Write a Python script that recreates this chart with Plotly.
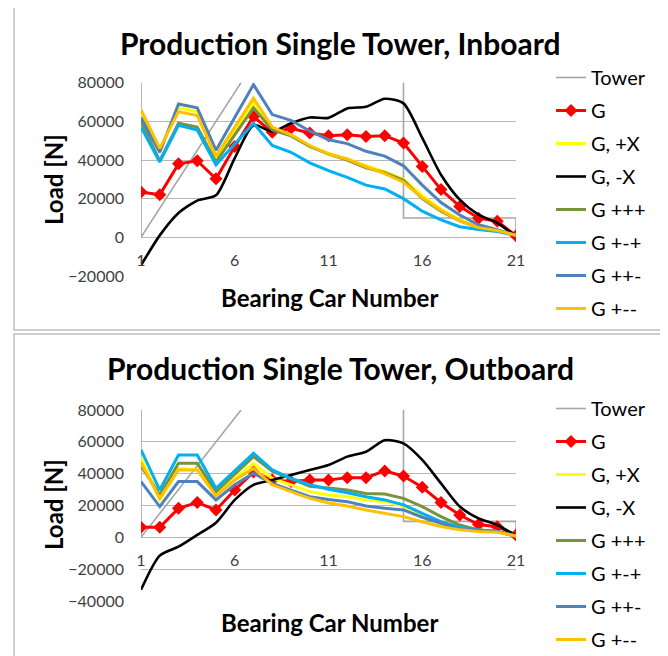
import plotly.graph_objects as go

# ---------------- data ----------------
bearing_car = list(range(1, 22))
tower_x = [1, 1, 7, 15, 15, 21, 21]
tower_y = [90000, 0, 90000, 90000, 10000, 10000, 0]

series_names = ["Tower", "G", "G, +X", "G, -X", "G +++", "G +-+", "G ++-", "G +--"]

# Inboard
in_G    = [23400, 22000, 38000, 39600, 30300, 47000, 62500, 54300, 56400, 54000, 52600, 53100, 52200, 52600, 48800, 36700, 24700, 16000, 9900, 8300, 800]
in_GpX  = [64000, 45000, 67000, 65000, 41000, 55500, 70000, 56000, 53000, 47000, 43500, 40500, 37000, 34000, 30000, 21500, 14500, 9000, 5000, 3500, 1000]
in_GmX  = [-14500, 1000, 12600, 19000, 21700, 41000, 58000, 54800, 59000, 62000, 61800, 66700, 67500, 71700, 69300, 51400, 32400, 19500, 11700, 7400, 500]
in_Gppp = [60000, 39500, 59000, 57000, 39000, 53000, 67000, 55500, 52500, 47000, 43000, 40000, 36000, 33500, 29500, 20000, 13500, 8500, 5000, 3500, 1000]
in_Gpmp = [57000, 39000, 58000, 55500, 37500, 48000, 59000, 47500, 44000, 38500, 34500, 31000, 27000, 25000, 20000, 13500, 9000, 5500, 4000, 3000, 1000]
in_Gppm = [62000, 44000, 69000, 67000, 45000, 62000, 79000, 63500, 60500, 55000, 50500, 48500, 44500, 42000, 37000, 27000, 18000, 11500, 6500, 4000, 1000]
in_Gpmm = [66000, 46000, 65000, 63000, 42000, 57000, 72000, 57000, 53000, 47500, 43000, 40500, 36500, 33000, 28500, 20500, 14000, 8500, 5000, 3500, 1000]

# Outboard
out_G    = [6300, 6300, 18200, 21800, 17200, 29700, 41000, 36000, 35000, 36000, 36000, 37500, 37500, 41700, 38500, 31400, 21800, 14000, 8000, 6700, 1500]
out_GpX  = [50000, 23500, 43300, 42300, 26600, 37000, 46500, 37000, 32900, 28700, 26600, 25500, 23500, 22400, 19700, 14000, 8400, 5000, 4600, 3600, 800]
out_GmX  = [-33000, -11500, -5900, 1500, 9200, 23500, 33000, 36000, 39200, 42300, 45400, 50700, 53800, 61000, 59000, 48600, 33900, 19300, 11900, 7700, 800]
out_Gppp = [45000, 26600, 46500, 46500, 28700, 39500, 50700, 41500, 36500, 32000, 31000, 29700, 27600, 27200, 24500, 19300, 13000, 7700, 4600, 3600, 800]
out_Gpmp = [55000, 29700, 51700, 51700, 30800, 42000, 52800, 42300, 37000, 33000, 30200, 28000, 25500, 23500, 20400, 15100, 9800, 6300, 4600, 3600, 800]
out_Gppm = [35000, 19300, 35000, 35000, 23500, 33000, 40200, 33900, 29700, 25500, 23700, 22400, 19700, 18200, 17200, 12600, 8800, 5000, 4600, 3600, 800]
out_Gpmm = [47000, 24500, 42300, 42300, 26000, 36000, 43300, 33000, 28700, 24500, 21600, 19700, 17200, 15100, 13000, 9800, 6700, 4800, 3600, 3200, 800]

titles = ["Production Single Tower, Inboard", "Production Single Tower, Outboard"]
x_title = "Bearing Car Number"
y_title = "Load [N]"

# ---------------- styling ----------------
OFF = 8                      # default page margin of the html body
W, H = 668 - OFF, 656 - OFF  # figure size that fits the window exactly
FONT = "Lato"
colors = ["#A6A6A6", "#FF0000", "#FFFF00", "#000000", "#77933C", "#00B0F0", "#4F81BD", "#FFC000"]
widths = [1.6, 3, 3, 2.6, 3, 3, 3, 3]

def px_x(p):
    """screen pixel -> paper x"""
    return (p - OFF) / W

def px_y(p):
    """screen pixel -> paper y"""
    return 1 - (p - OFF) / H

fig = go.Figure()

panels = [
    dict(data=[in_G, in_GpX, in_GmX, in_Gppp, in_Gpmp, in_Gppm, in_Gpmm],
         xa="x", ya="y", legend="legend", yrange=[-20000, 80000],
         ytop=82.7, ybot=275.95),
    dict(data=[out_G, out_GpX, out_GmX, out_Gppp, out_Gpmp, out_Gppm, out_Gpmm],
         xa="x2", ya="y2", legend="legend2", yrange=[-40000, 80000],
         ytop=410.0, ybot=600.95),
]

for p in panels:
    fig.add_trace(go.Scatter(x=tower_x, y=tower_y, name=series_names[0], mode="lines",
                             line=dict(color=colors[0], width=widths[0]),
                             xaxis=p["xa"], yaxis=p["ya"], legend=p["legend"],
                             legendgroup=p["legend"] + "0"))
    for i, vals in enumerate(p["data"], start=1):
        kw = dict(mode="lines")
        line = dict(color=colors[i], width=widths[i])
        if i == 1:
            kw = dict(mode="lines+markers",
                      marker=dict(symbol="diamond", size=10, color=colors[1]))
        if i == 3:
            line.update(shape="spline", smoothing=0.7)
        fig.add_trace(go.Scatter(x=bearing_car, y=vals, name=series_names[i], line=line,
                                 xaxis=p["xa"], yaxis=p["ya"], legend=p["legend"],
                                 legendgroup=p["legend"] + str(i), **kw))

x_dom = [px_x(141), px_x(516)]
layout = dict(width=W, height=H, margin=dict(l=0, r=0, t=0, b=0, autoexpand=False),
              paper_bgcolor="white", plot_bgcolor="white", showlegend=True,
              font=dict(family=FONT, color="#000000"))

shapes = []
annotations = []
for k, p in enumerate(panels):
    sfx = "" if k == 0 else "2"
    d0, d1 = px_y(p["ybot"]), px_y(p["ytop"])
    y0, y1 = p["yrange"]
    zero_pos = d0 + (0 - y0) / (y1 - y0) * (d1 - d0)
    layout["xaxis" + sfx] = dict(domain=x_dom, range=[1, 21], tick0=1, dtick=5,
                                 anchor="free", position=zero_pos,
                                 showgrid=False, zeroline=False, showline=False,
                                 ticks="", ticklabelstandoff=12,
                                 tickfont=dict(family=FONT, size=16, color="#404040"))
    layout["yaxis" + sfx] = dict(domain=[d0, d1], range=p["yrange"], dtick=20000,
                                 anchor="x" + sfx, showgrid=True, gridcolor="#B8B8B8",
                                 gridwidth=1.3, zeroline=False, showline=False,
                                 ticks="", ticklabelstandoff=16, tickformat="d",
                                 tickfont=dict(family=FONT, size=16, color="#404040"))
    leg_top = [58, 389][k]
    layout["legend" + ("" if k == 0 else "2")] = dict(
        x=px_x(551), y=px_y(leg_top), xanchor="left", yanchor="top",
        traceorder="grouped", tracegroupgap=4, bgcolor="rgba(0,0,0,0)",
        font=dict(family=FONT, size=20, color="#000000"), itemwidth=30)

# panel borders
shapes.append(dict(type="rect", xref="paper", yref="paper",
                   x0=px_x(14), x1=px_x(662), y0=px_y(330), y1=px_y(7),
                   line=dict(color="#BFBFBF", width=1.5)))
shapes.append(dict(type="rect", xref="paper", yref="paper",
                   x0=px_x(14), x1=px_x(662), y0=px_y(662), y1=px_y(334),
                   line=dict(color="#BFBFBF", width=1.5)))

title_y = [43, 368]
xt_y = [297, 622]
yt_y = [180, 505]
for k in range(2):
    annotations.append(dict(text="<b>%s</b>" % titles[k], xref="paper", yref="paper",
                            x=px_x(340), y=px_y(title_y[k]), showarrow=False,
                            xanchor="center", yanchor="middle",
                            font=dict(family=FONT, size=30, color="#000000")))
    annotations.append(dict(text="<b>%s</b>" % x_title, xref="paper", yref="paper",
                            x=px_x(329), y=px_y(xt_y[k]), showarrow=False,
                            xanchor="center", yanchor="middle",
                            font=dict(family=FONT, size=24, color="#000000")))
    annotations.append(dict(text="<b>%s</b>" % y_title, xref="paper", yref="paper",
                            x=px_x(53), y=px_y(yt_y[k]), showarrow=False, textangle=-90,
                            xanchor="center", yanchor="middle",
                            font=dict(family=FONT, size=24, color="#000000")))

layout["shapes"] = shapes
layout["annotations"] = annotations
fig.update_layout(**layout)
fig.write_html("out.html")
